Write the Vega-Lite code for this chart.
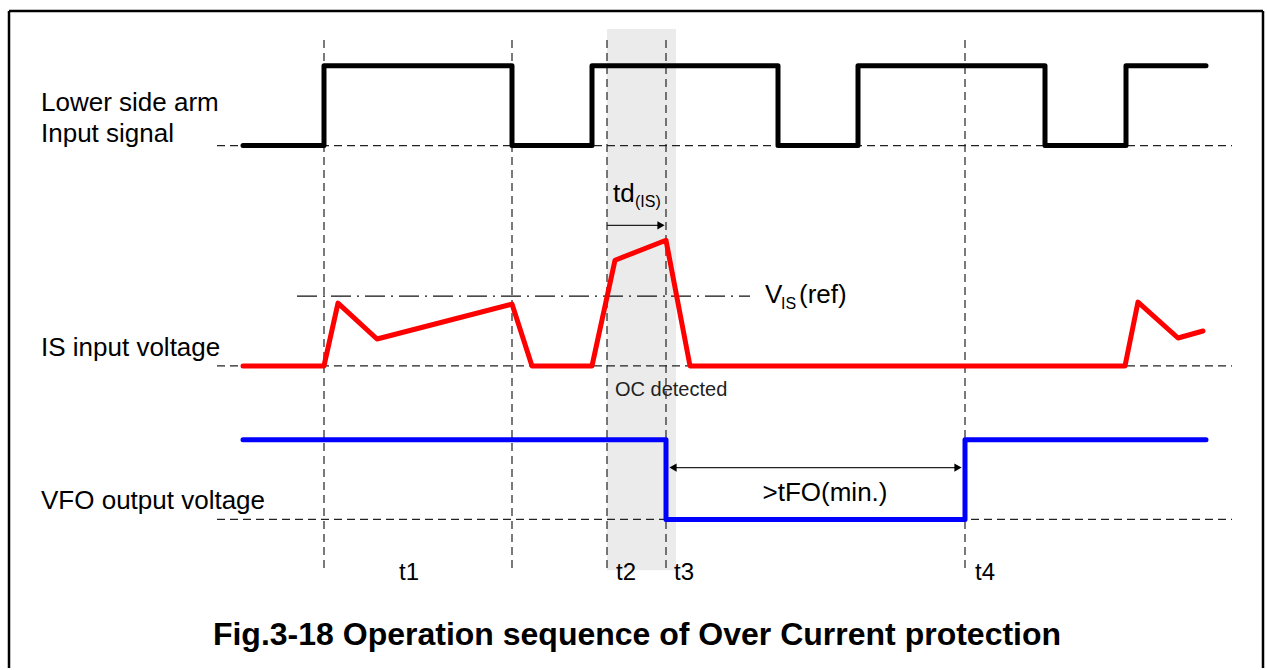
{
  "$schema": "https://vega.github.io/schema/vega-lite/v6.json",
  "width": 1267,
  "height": 670,
  "padding": 0,
  "autosize": {"type": "fit", "contains": "padding"},
  "background": "white",
  "config": {"view": {"stroke": null}, "axis": {"disable": true}},
  "datasets": {
    "frame": [
      {"x": 9, "x2": 9, "y": 11, "y2": 670},
      {"x": 1263, "x2": 1263, "y": 11, "y2": 670},
      {"x": 9, "x2": 1263, "y": 11, "y2": 11}
    ],
    "shade": [{"x": 607, "x2": 676, "y": 29, "y2": 572}],
    "dashed": [
      {"x": 217, "x2": 1232, "y": 146, "y2": 146},
      {"x": 217, "x2": 1232, "y": 367, "y2": 367},
      {"x": 217, "x2": 1232, "y": 521, "y2": 521},
      {"x": 324, "x2": 324, "y": 40, "y2": 574},
      {"x": 512, "x2": 512, "y": 40, "y2": 574},
      {"x": 607, "x2": 607, "y": 40, "y2": 574},
      {"x": 666, "x2": 666, "y": 40, "y2": 574},
      {"x": 965, "x2": 965, "y": 40, "y2": 574}
    ],
    "ref": [{"x": 297, "x2": 750, "y": 297, "y2": 297}],
    "arrows": [
      {"x": 607, "x2": 660, "y": 226, "y2": 226},
      {"x": 672, "x2": 959, "y": 469, "y2": 469}
    ],
    "heads": [
      {"x": 661, "y": 226, "dir": "right"},
      {"x": 673, "y": 469, "dir": "left"},
      {"x": 958, "y": 469, "dir": "right"}
    ],
    "signals": [
      {"sig": "input", "i": 0, "t": 243, "v": 146},
      {"sig": "input", "i": 1, "t": 324, "v": 146},
      {"sig": "input", "i": 2, "t": 324, "v": 66},
      {"sig": "input", "i": 3, "t": 512, "v": 66},
      {"sig": "input", "i": 4, "t": 512, "v": 146},
      {"sig": "input", "i": 5, "t": 592, "v": 146},
      {"sig": "input", "i": 6, "t": 592, "v": 66},
      {"sig": "input", "i": 7, "t": 778, "v": 66},
      {"sig": "input", "i": 8, "t": 778, "v": 146},
      {"sig": "input", "i": 9, "t": 858, "v": 146},
      {"sig": "input", "i": 10, "t": 858, "v": 66},
      {"sig": "input", "i": 11, "t": 1045, "v": 66},
      {"sig": "input", "i": 12, "t": 1045, "v": 146},
      {"sig": "input", "i": 13, "t": 1126, "v": 146},
      {"sig": "input", "i": 14, "t": 1126, "v": 66},
      {"sig": "input", "i": 15, "t": 1206, "v": 66},
      {"sig": "is", "i": 0, "t": 243, "v": 367},
      {"sig": "is", "i": 1, "t": 324, "v": 367},
      {"sig": "is", "i": 2, "t": 338, "v": 304},
      {"sig": "is", "i": 3, "t": 377, "v": 340},
      {"sig": "is", "i": 4, "t": 512, "v": 305},
      {"sig": "is", "i": 5, "t": 532, "v": 367},
      {"sig": "is", "i": 6, "t": 592, "v": 367},
      {"sig": "is", "i": 7, "t": 615, "v": 261},
      {"sig": "is", "i": 8, "t": 666, "v": 241},
      {"sig": "is", "i": 9, "t": 690, "v": 367},
      {"sig": "is", "i": 10, "t": 1125, "v": 367},
      {"sig": "is", "i": 11, "t": 1138, "v": 303},
      {"sig": "is", "i": 12, "t": 1178, "v": 339},
      {"sig": "is", "i": 13, "t": 1203, "v": 332},
      {"sig": "vfo", "i": 0, "t": 243, "v": 441},
      {"sig": "vfo", "i": 1, "t": 666, "v": 441},
      {"sig": "vfo", "i": 2, "t": 666, "v": 521},
      {"sig": "vfo", "i": 3, "t": 965, "v": 521},
      {"sig": "vfo", "i": 4, "t": 965, "v": 441},
      {"sig": "vfo", "i": 5, "t": 1206, "v": 441}
    ],
    "leftLabels": [
      {"x": 41, "y": 111, "text": "Lower side arm"},
      {"x": 41, "y": 142, "text": "Input signal"},
      {"x": 41, "y": 357, "text": "IS input voltage"},
      {"x": 41, "y": 511, "text": "VFO output voltage"}
    ],
    "tLabels": [
      {"x": 409, "y": 582, "text": "t1"},
      {"x": 626, "y": 582, "text": "t2"},
      {"x": 684, "y": 582, "text": "t3"},
      {"x": 985, "y": 582, "text": "t4"}
    ],
    "bigNotes": [
      {"x": 613, "y": 203, "text": "td"},
      {"x": 765, "y": 304, "text": "V"},
      {"x": 799, "y": 304, "text": "(ref)"}
    ],
    "subs": [
      {"x": 635, "y": 208, "text": "(IS)"},
      {"x": 781, "y": 310, "text": "IS"}
    ],
    "tfo": [{"x": 825, "y": 503, "text": ">tFO(min.)"}],
    "oc": [{"x": 615, "y": 397, "text": "OC detected"}],
    "title": [{"x": 637, "y": 647, "text": "Fig.3-18 Operation sequence of Over Current protection"}]
  },
  "encoding": {
    "x": {"field": "x", "type": "quantitative", "scale": {"domain": [0, 1267], "nice": false, "zero": false}},
    "y": {"field": "y", "type": "quantitative", "scale": {"domain": [0, 670], "reverse": true, "nice": false, "zero": false}}
  },
  "layer": [
    {
      "data": {"name": "frame"},
      "mark": {"type": "rule", "color": "black", "strokeWidth": 2.5},
      "encoding": {"x2": {"field": "x2"}, "y2": {"field": "y2"}}
    },
    {
      "data": {"name": "shade"},
      "mark": {"type": "rect", "color": "#ebebeb"},
      "encoding": {"x2": {"field": "x2"}, "y2": {"field": "y2"}}
    },
    {
      "data": {"name": "dashed"},
      "mark": {"type": "rule", "color": "#222222", "strokeWidth": 1.2, "strokeDash": [8, 5]},
      "encoding": {"x2": {"field": "x2"}, "y2": {"field": "y2"}}
    },
    {
      "data": {"name": "ref"},
      "mark": {"type": "rule", "color": "#111111", "strokeWidth": 1.3, "strokeDash": [20, 6, 2, 6]},
      "encoding": {"x2": {"field": "x2"}, "y2": {"field": "y2"}}
    },
    {
      "data": {"name": "arrows"},
      "mark": {"type": "rule", "color": "#222222", "strokeWidth": 1.2},
      "encoding": {"x2": {"field": "x2"}, "y2": {"field": "y2"}}
    },
    {
      "data": {"name": "heads"},
      "mark": {"type": "point", "filled": true, "size": 70, "opacity": 1, "color": "black"},
      "encoding": {
        "shape": {"field": "dir", "type": "nominal", "scale": {"domain": ["right", "left"], "range": ["triangle-right", "triangle-left"]}, "legend": null}
      }
    },
    {
      "data": {"name": "signals"},
      "mark": {"type": "line", "strokeWidth": 5, "strokeCap": "round", "strokeJoin": "round"},
      "encoding": {
        "x": {"field": "t", "type": "quantitative"},
        "y": {"field": "v", "type": "quantitative"},
        "color": {"field": "sig", "type": "nominal", "scale": {"domain": ["input", "is", "vfo"], "range": ["#000000", "#ff0000", "#0000ff"]}, "legend": null},
        "order": {"field": "i", "type": "quantitative"}
      }
    },
    {
      "data": {"name": "leftLabels"},
      "mark": {"type": "text", "font": "Liberation Sans", "fontSize": 26, "align": "left", "baseline": "alphabetic", "color": "black"},
      "encoding": {"text": {"field": "text"}}
    },
    {
      "data": {"name": "tLabels"},
      "mark": {"type": "text", "font": "Liberation Sans", "fontSize": 24, "align": "center", "baseline": "alphabetic", "color": "black"},
      "encoding": {"text": {"field": "text"}}
    },
    {
      "data": {"name": "bigNotes"},
      "mark": {"type": "text", "font": "Liberation Sans", "fontSize": 26, "align": "left", "baseline": "alphabetic", "color": "black"},
      "encoding": {"text": {"field": "text"}}
    },
    {
      "data": {"name": "subs"},
      "mark": {"type": "text", "font": "Liberation Sans", "fontSize": 16, "align": "left", "baseline": "alphabetic", "color": "black"},
      "encoding": {"text": {"field": "text"}}
    },
    {
      "data": {"name": "tfo"},
      "mark": {"type": "text", "font": "Liberation Sans", "fontSize": 26, "align": "center", "baseline": "alphabetic", "color": "black"},
      "encoding": {"text": {"field": "text"}}
    },
    {
      "data": {"name": "oc"},
      "mark": {"type": "text", "font": "Liberation Sans", "fontSize": 20, "align": "left", "baseline": "alphabetic", "color": "#222222"},
      "encoding": {"text": {"field": "text"}}
    },
    {
      "data": {"name": "title"},
      "mark": {"type": "text", "font": "Liberation Sans", "fontSize": 32, "fontWeight": "bold", "align": "center", "baseline": "alphabetic", "color": "black"},
      "encoding": {"text": {"field": "text"}}
    }
  ]
}
